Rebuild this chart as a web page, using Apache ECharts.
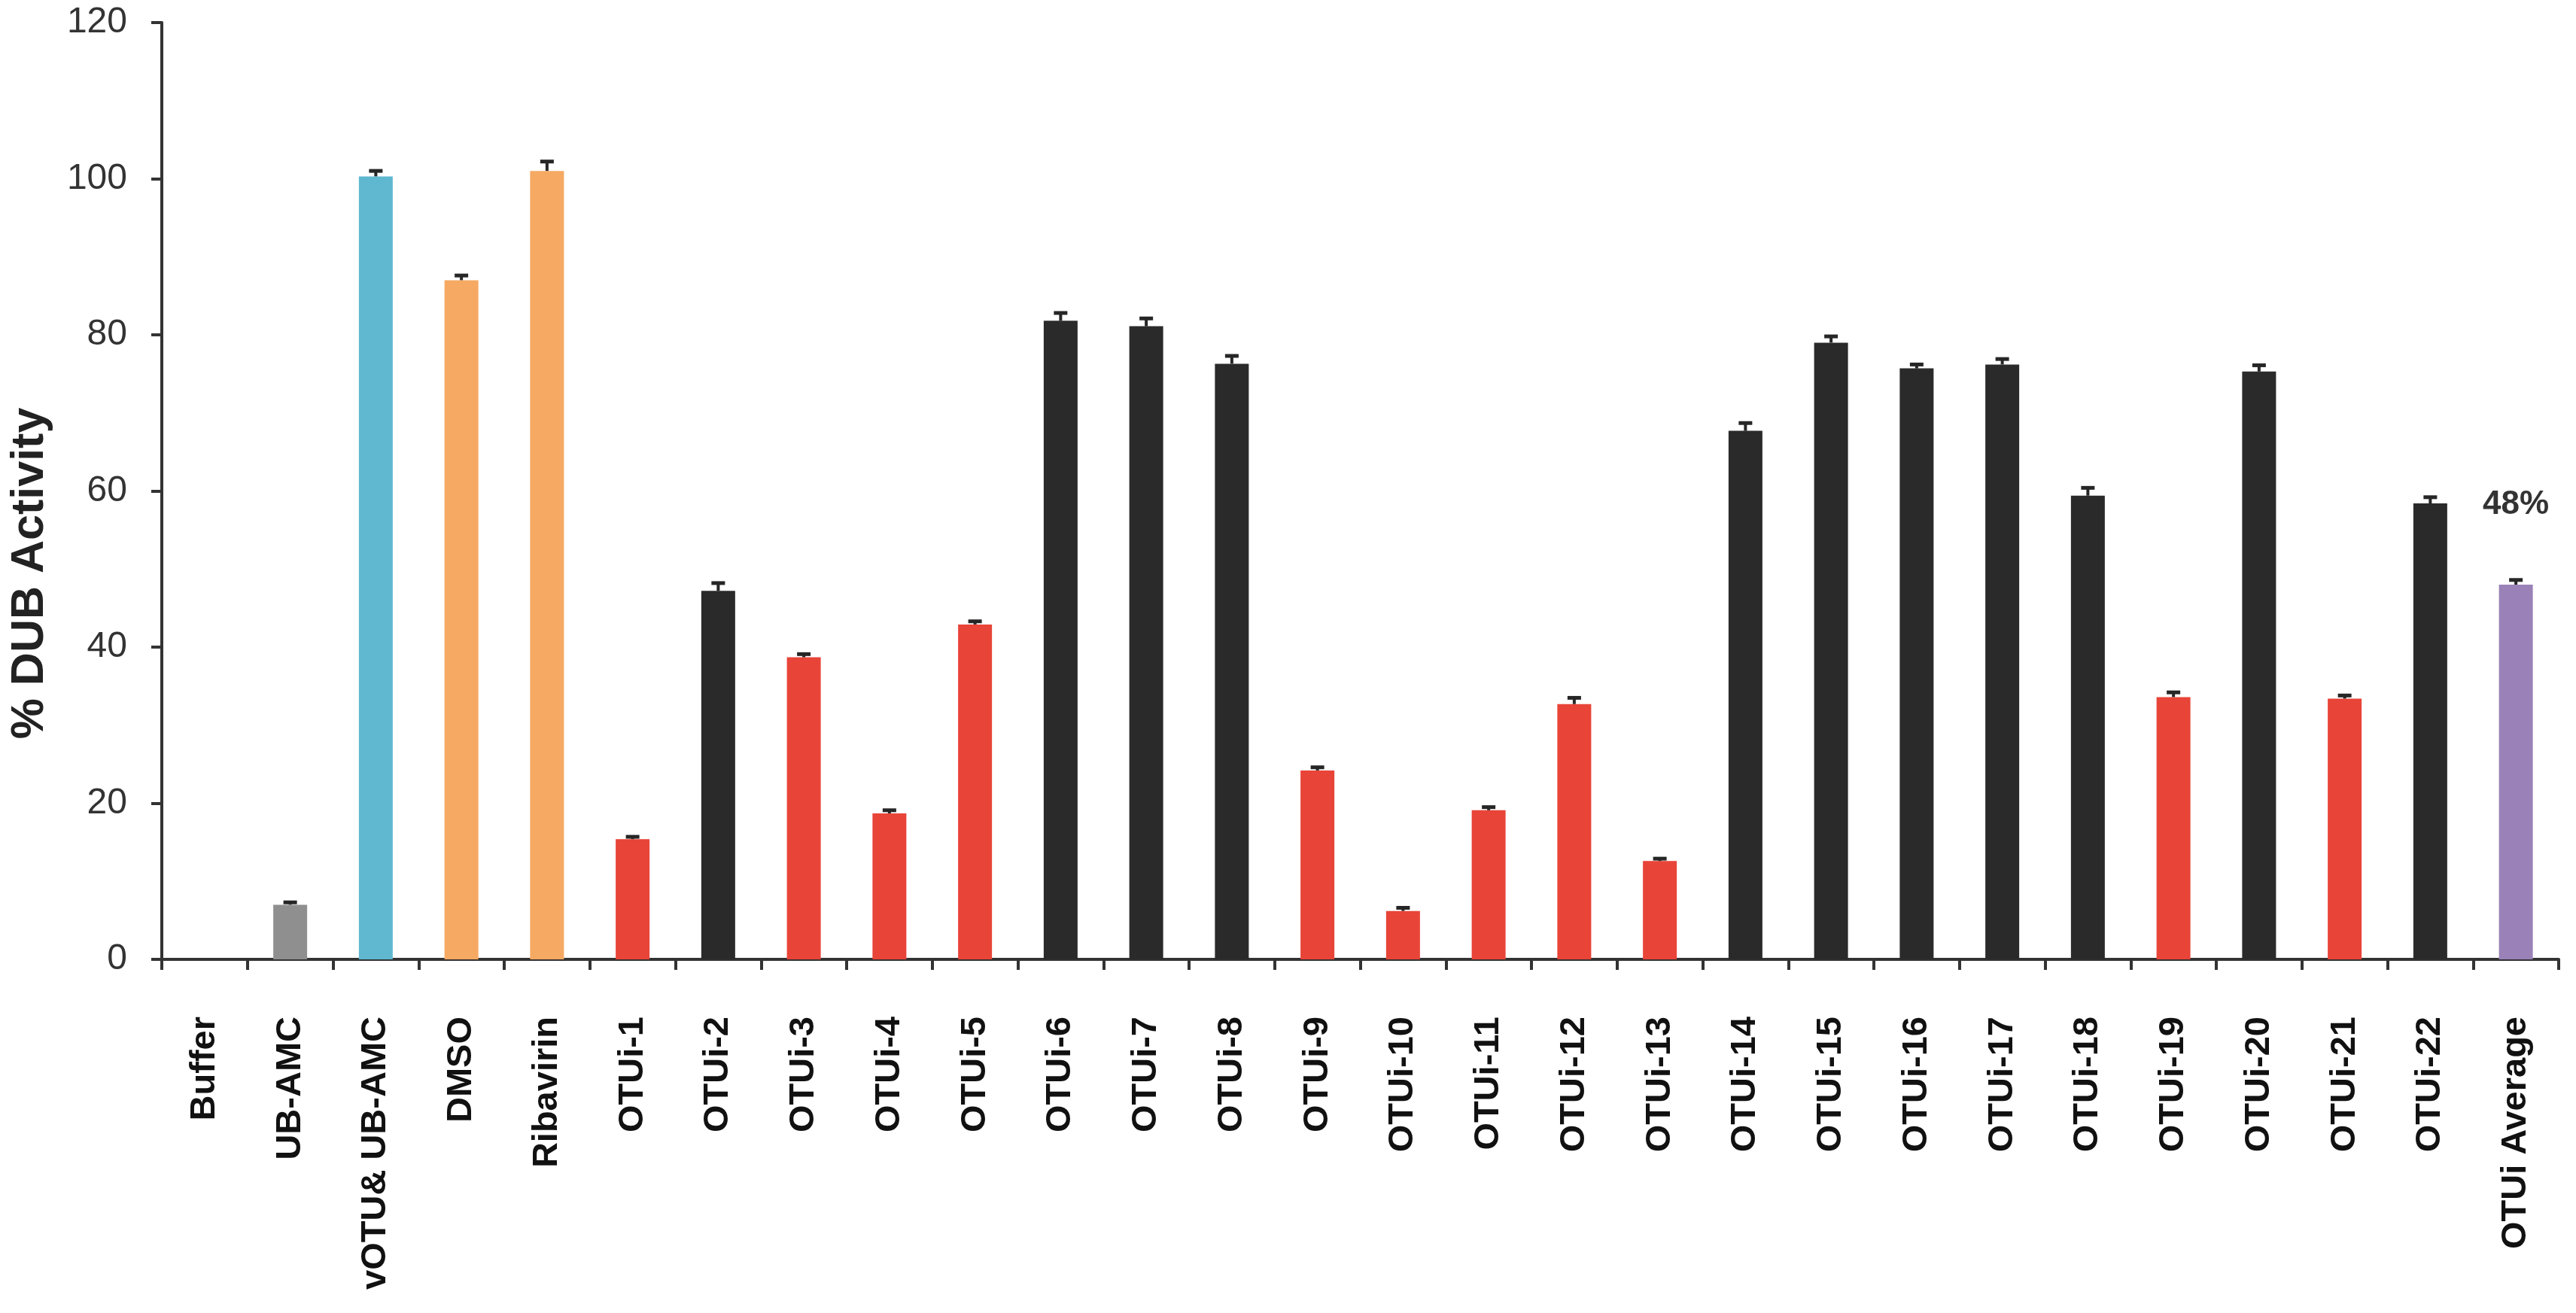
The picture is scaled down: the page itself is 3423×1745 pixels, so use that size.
<!DOCTYPE html>
<html>
<head>
<meta charset="utf-8">
<script src="https://cdn.jsdelivr.net/npm/echarts@6/dist/echarts.min.js"></script>
<style>
html,body{margin:0;padding:0;background:#fff;}
#chart{width:3423px;height:1745px;}
</style>
</head>
<body>
<div id="chart"></div>
<script>
// ---- data ----
const categories = ['Buffer','UB-AMC','vOTU& UB-AMC','DMSO','Ribavirin',
  'OTUi-1','OTUi-2','OTUi-3','OTUi-4','OTUi-5','OTUi-6','OTUi-7','OTUi-8','OTUi-9','OTUi-10',
  'OTUi-11','OTUi-12','OTUi-13','OTUi-14','OTUi-15','OTUi-16','OTUi-17','OTUi-18','OTUi-19',
  'OTUi-20','OTUi-21','OTUi-22','OTUi Average'];
const activity = [0, 7.0, 100.3, 87.0, 101.0,
  15.4, 47.2, 38.7, 18.7, 42.9, 81.8, 81.1, 76.3, 24.2, 6.2,
  19.1, 32.7, 12.6, 67.7, 79.0, 75.7, 76.2, 59.4, 33.6,
  75.3, 33.4, 58.4, 48.0];
const errors = [null, 0.3, 0.7, 0.6, 1.2,
  0.3, 1.0, 0.4, 0.4, 0.4, 1.0, 1.0, 1.0, 0.4, 0.4,
  0.4, 0.8, 0.3, 1.0, 0.8, 0.5, 0.7, 1.0, 0.6,
  0.8, 0.4, 0.8, 0.6];
// group of each bar: ctrl-gray, ctrl-blue, ctrl-orange, active (red), inactive (black), avg
const groups = ['none','gray','blue','orange','orange',
  'red','black','red','red','red','black','black','black','red','red',
  'red','red','red','black','black','black','black','black','red',
  'black','red','black','purple'];
const yTicks = [0, 20, 40, 60, 80, 100, 120];

// ---- styles ----
const palette = {none:'#ffffff', gray:'#8f8f8f', blue:'#5fb8cf', orange:'#f6a962',
  red:'#e84438', black:'#2a2a2a', purple:'#9a82b8'};
const axisColor = '#333333';
const font = '"Liberation Sans", Arial, Helvetica, sans-serif';

const barData = activity.map((v, i) => {
  const item = {value: v, itemStyle: {color: palette[groups[i]]}};
  if (i === activity.length - 1) {
    item.label = {show: true, position: 'top', distance: 84,
      formatter: p => Math.round(p.value) + '%',
      fontFamily: font, fontWeight: 'bold', fontSize: 44, color: '#333333'};
  }
  return item;
});
const errData = activity.map((v, i) => errors[i] == null ? null : [i, v, errors[i]]).filter(d => d);

const chart = echarts.init(document.getElementById('chart'));
chart.setOption({
  animation: false,
  backgroundColor: '#ffffff',
  grid: {left: 215, right: 23, top: 30, bottom: 470, containLabel: false},
  xAxis: {
    type: 'category',
    data: categories,
    boundaryGap: true,
    axisLine: {lineStyle: {color: axisColor, width: 4}},
    axisTick: {show: true, length: 14, lineStyle: {color: axisColor, width: 4}, alignWithLabel: false},
    axisLabel: {rotate: 90, interval: 0, margin: 76, fontFamily: font, fontWeight: 'bold',
      fontSize: 47, color: '#111111'}
  },
  yAxis: {
    type: 'value', min: yTicks[0], max: yTicks[yTicks.length - 1], interval: 20,
    splitLine: {show: false},
    axisLine: {show: true, lineStyle: {color: axisColor, width: 4}},
    axisTick: {show: true, length: 14, lineStyle: {color: axisColor, width: 4}},
    axisLabel: {margin: 46, fontFamily: font, fontSize: 48, color: '#333333'}
  },
  graphic: [{
    type: 'text', x: 40, y: 762, rotation: Math.PI / 2,
    style: {text: '% DUB Activity', fontFamily: font, fontWeight: 'bold', fontSize: 61,
      fill: '#222222', textAlign: 'center', textVerticalAlign: 'middle'}
  }],
  series: [{
    type: 'bar',
    data: barData,
    barWidth: 45,
    z: 2
  }, {
    type: 'custom',
    data: errData,
    z: 3,
    renderItem: function (params, api) {
      const x = api.value(0), y = api.value(1), e = api.value(2);
      const base = api.coord([x, y]);
      const top = api.coord([x, y + e]);
      const half = 9;
      const st = {stroke: '#262626', lineWidth: 5};
      return {
        type: 'group',
        children: [
          {type: 'line', shape: {x1: base[0], y1: base[1], x2: top[0], y2: top[1]}, style: {stroke: '#262626', lineWidth: 4}},
          {type: 'line', shape: {x1: top[0] - half, y1: top[1], x2: top[0] + half, y2: top[1]}, style: st}
        ]
      };
    }
  }]
});
</script>
</body>
</html>
